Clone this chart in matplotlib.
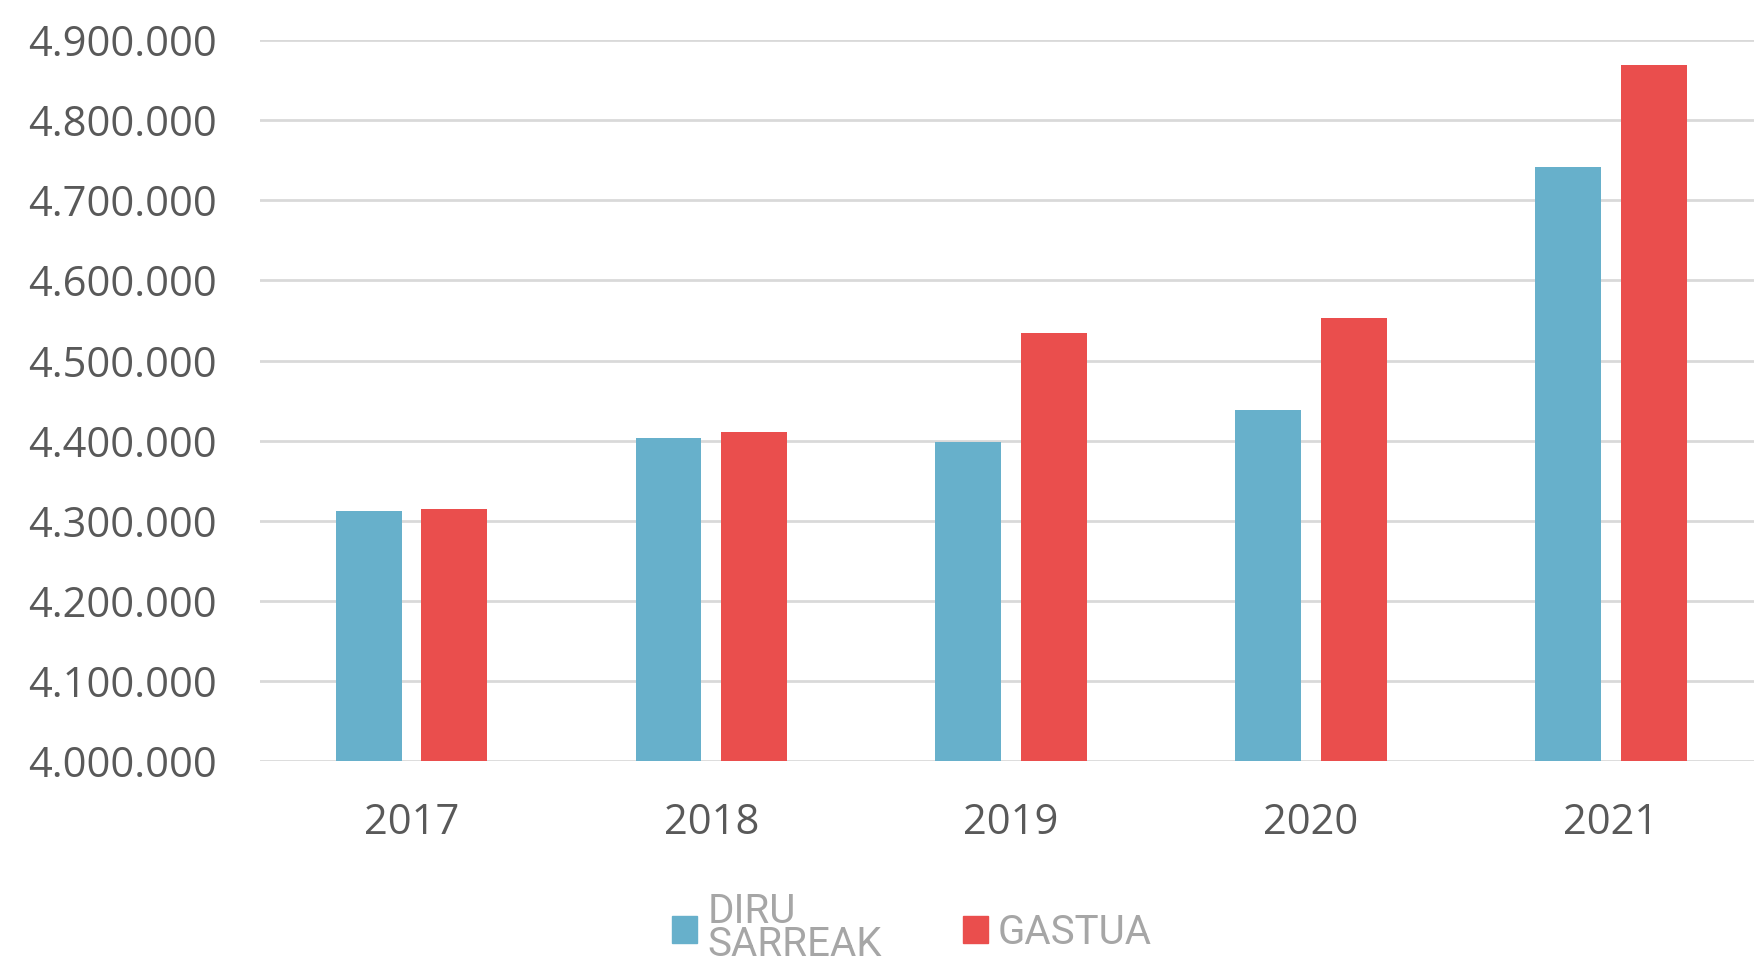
import matplotlib.pyplot as plt
import numpy as np
from matplotlib.patches import Patch
from matplotlib.ticker import FuncFormatter

# Daten
jahre = ["2017", "2018", "2019", "2020", "2021"]
diru_sarreak = [4311500, 4403800, 4398000, 4438500, 4741600]
gastua = [4314000, 4410600, 4535000, 4553000, 4868700]

blau = "#67b0cb"
rot = "#ea4e4d"

fig = plt.figure(figsize=(17.54, 9.61), dpi=100)
ax = fig.add_axes([0.148, 0.2084, 0.852, 0.7496])

x = np.arange(len(jahre))
breite = 0.22
ax.bar(x - 0.143, diru_sarreak, breite, color=blau, zorder=3)
ax.bar(x + 0.143, gastua, breite, color=rot, zorder=3)

ax.set_ylim(4000000, 4900000)
ax.set_yticks(range(4000000, 4900001, 100000))
ax.yaxis.set_major_formatter(FuncFormatter(lambda v, p: f"{int(v):,}".replace(",", ".")))
ax.set_xlim(-0.507, 4.478)
ax.set_xticks(x)
ax.set_xticklabels(jahre)

ax.grid(axis="y", color="#d9d9d9", linewidth=2, zorder=0)
for s in ax.spines.values():
    s.set_visible(False)
ax.tick_params(axis="y", length=0, pad=31, labelsize=30, labelcolor="#595959")
ax.tick_params(axis="x", length=0, pad=30, labelsize=30, labelcolor="#595959")
for lbl in ax.get_xticklabels() + ax.get_yticklabels():
    lbl.set_fontfamily("Open Sans")

handles = [Patch(color=blau, label="DIRU\nSARREAK"), Patch(color=rot, label="GASTUA")]
leg = fig.legend(handles=handles, loc="center", bbox_to_anchor=(0.52, 0.034), ncol=2,
                 frameon=False, prop={"family": "Roboto", "size": 29},
                 handlelength=0.63, handleheight=0.63, handletextpad=0.25,
                 columnspacing=2.0, borderpad=0)
for t in leg.get_texts():
    t.set_color("#a6a6a6")
    t.set_linespacing(0.8)

fig.savefig("out.png", dpi=100)
